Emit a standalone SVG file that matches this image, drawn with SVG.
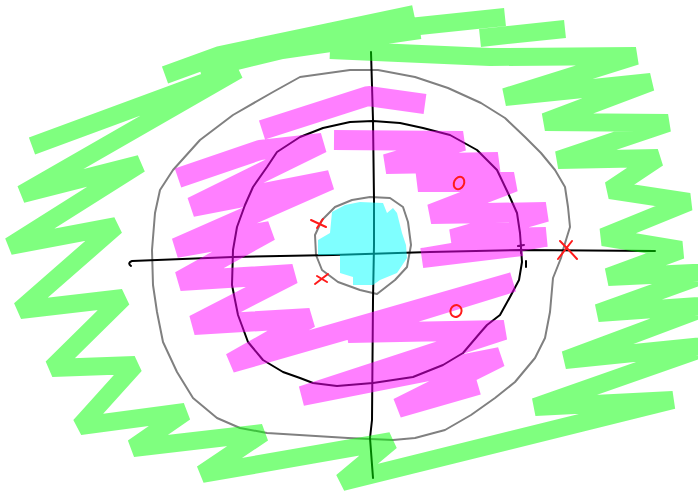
<svg xmlns="http://www.w3.org/2000/svg" width="698" height="495" viewBox="0 0 698 495">
<style>
.hl{fill:none;stroke-linejoin:bevel;stroke-linecap:butt}
.gray{fill:none;stroke:#808080;stroke-width:2;stroke-linejoin:round;stroke-linecap:round}
.ink{fill:none;stroke:#000;stroke-width:2;stroke-linejoin:round;stroke-linecap:round}
.red{fill:none;stroke:#ff1a1a;stroke-width:2;stroke-linecap:round;stroke-linejoin:round}
</style>
<rect width="698" height="495" fill="#fff"/>
<g id="outlines">
<polygon class="gray" points="350,70 378,70 415,77 448,88 481,103 505,118 525,137 541,153 555,170 565,187 568,207 570,227 566,240 563,250 561,258 553,278 550,312 545,338 535,358 515,382 495,398 471,415 445,430 415,438 393,440 348,438 267,433 240,428 217,418 193,398 177,372 163,342 157,312 153,285 152,250 155,213 160,190 173,170 200,140 233,115 273,92 300,77"/>
<polygon class="ink" points="373,121 400,123 423,128 450,135 477,150 497,170 508,193 517,213 520,233 521,247 522,262 519,280 510,297 500,315 487,325 480,333 463,353 443,365 413,377 373,383 337,386 313,383 300,378 283,372 263,360 248,342 238,315 232,285 233,250 237,227 245,205 253,187 267,167 277,152 300,137 323,128 350,122"/>
<polygon class="gray" points="370,197 390,198 403,207 408,222 411,245 407,267 395,280 377,294 360,290 338,282 322,270 316,255 315,235 322,220 335,207 352,200"/>
<path class="ink" d="M131,266 Q127,263 132,261 L233,257 L333,255 L430,252 L521,250 L655,251"/>
<path class="ink" d="M371,52 L373,120 L374,200 L374,245 L373,300 L372,420 L370,438 L373,478"/>
<path class="ink" stroke-width="2.5" d="M518,246 L524,245 M521,245 L521,253 M526,261 L526,267"/>
</g>
<g id="green" opacity="0.5">
<path class="hl" stroke="#00ff00" stroke-width="18" d="M32,146 L238,70 L22,194 L140,164 L10,246 L116,226 L20,310 L123,298 L52,368 L135,365 L80,426 L185,412 L133,448 L263,433 L202,474 L391,441 L342,482 L673,400 L535,407 L712,345 L565,360 L712,305 L598,313 L712,272 L608,277 L681,250 L603,237 L689,202 L610,190 L658,158 L558,160 L668,123 L545,122 L651,82 L505,97 L636,56 L490,57 L330,50 M165,75 L220,55 L300,38 L414,14 M200,70 L282,50 L420,30 M400,28 L505,17 M480,38 L565,29"/>
</g>
<g id="pink" opacity="0.5">
<path class="hl" stroke="#ff00ff" stroke-width="20" d="M262,130 L368,96 L425,104 M334,140 L463,141 L386,164 L498,162 L418,182 L514,182 L431,214 L546,212 L452,239 L546,237 L422,258 L522,246 M178,178 L260,150 L322,143 L192,207 L330,180 L176,248 L270,231 L180,281 L293,274 L194,325 L310,318 L231,363 L513,282 L348,333 L504,330 L302,396 L500,357 L398,408 L478,385"/>
</g>
<g id="cyan" opacity="0.5">
<polygon fill="#00ffff" points="332,212 345,205 360,202 383,203 387,213 393,208 397,213 402,233 406,245 407,258 397,273 380,280 373,285 353,285 353,277 340,273 340,255 318,255 318,240 330,233"/>
</g>
<g id="marks">
<path class="red" d="M311,220 L326,227 M317,228 L323,219"/>
<path class="red" d="M315,284 L328,274 M317,276 L327,282"/>
<path class="red" d="M560,241 Q568,249 577,259 M558,259 L572,241"/>
<ellipse class="red" cx="459" cy="183" rx="5" ry="6.5" transform="rotate(25 459 183)"/>
<ellipse class="red" cx="456" cy="311" rx="5.5" ry="6" transform="rotate(25 456 311)"/>
</g>
</svg>
